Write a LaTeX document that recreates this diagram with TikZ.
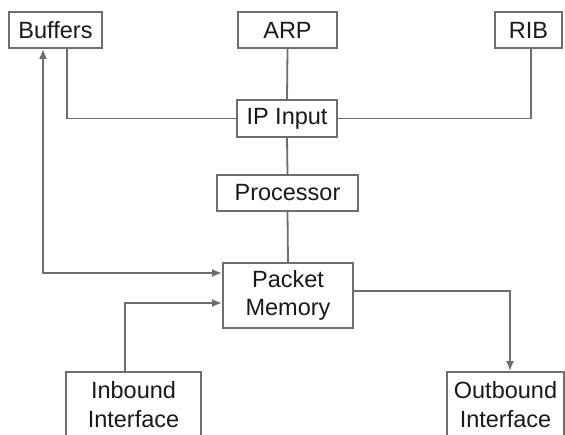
\documentclass[tikz,border=0pt]{standalone}
\usepackage{fontspec}
\setmainfont{Liberation Sans}
\usetikzlibrary{arrows.meta}
\definecolor{linegray}{RGB}{110,110,110}
\definecolor{textgray}{RGB}{25,25,25}
\begin{document}
\begin{tikzpicture}[x=1pt,y=-1pt,
  box/.style={draw=linegray,line width=1.8pt,fill=white,inner sep=0pt,
    text=textgray,font=\fontsize{23.5}{28.5}\selectfont,align=center},
  link/.style={draw=linegray,line width=1.8pt},
  tip/.style={-{Latex[length=10pt,width=8pt]}}]
\useasboundingbox (0,0) rectangle (565,435);
% upper row
\node[box,minimum width=93pt,minimum height=36pt] (buf) at (55.5,30) {Buffers};
\node[box,minimum width=99pt,minimum height=36pt] (arp) at (287.5,30) {ARP};
\node[box,minimum width=67pt,minimum height=36pt] (rib) at (528.5,30) {RIB};
% centre column
\node[box,minimum width=100pt,minimum height=37pt] (ip) at (287,118.5) {IP Input};
\node[box,minimum width=141pt,minimum height=36pt] (cpu) at (287.5,193) {Processor};
\node[box,minimum width=130pt,minimum height=65pt] (mem) at (288,295.5) {Packet\\Memory};
% interfaces
\node[box,minimum width=135pt,minimum height=65pt] (inb) at (133.5,404.5) {Inbound\\Interface};
\node[box,minimum width=117pt,minimum height=65pt] (outb) at (505.5,404.5) {Outbound\\Interface};
% connectors
\draw[link] ([xshift=11.5pt]buf.south) |- (ip.west);
\draw[link] (arp.south) -- (ip.north);
\draw[link] ([xshift=2.5pt]rib.south) |- (ip.east);
\draw[link] (ip.south) -- (cpu.north);
\draw[link] (cpu.south) -- (mem.north);
\draw[link,{Latex[length=10pt,width=8pt]}-{Latex[length=10pt,width=8pt]}]
  ([xshift=-12.5pt]buf.south) |- ([yshift=22.5pt]mem.west);
\draw[link,tip] ([xshift=-8.5pt]inb.north) |- ([yshift=-7.5pt]mem.west);
\draw[link,tip] ([yshift=4.5pt]mem.east) -| ([xshift=4.5pt]outb.north);
\end{tikzpicture}
\end{document}
